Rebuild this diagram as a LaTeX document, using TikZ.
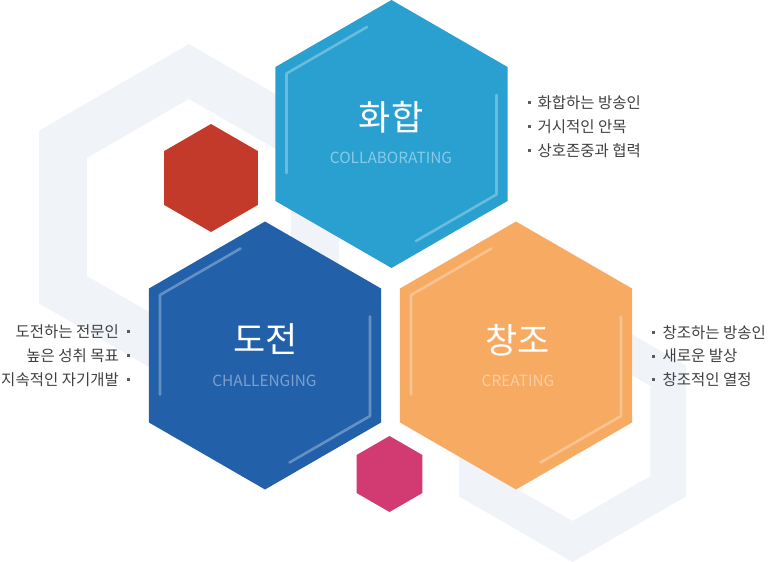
\documentclass[tikz,border=0pt]{standalone}
\usepackage{fontspec}
\setmainfont{Noto Sans CJK KR}
\begin{document}
\begin{tikzpicture}[x=1pt,y=-1pt,
  hexfill/.style={fill=#1},
  bgband/.style={fill=bgc,even odd rule},
  deco/.style={draw=white,draw opacity=0.3,line width=2.6pt,line cap=round,line join=round},
  title/.style={text=white,font=\fontsize{35}{40}\selectfont,inner sep=0pt},
  sub/.style={font=\fontsize{15.4}{19}\selectfont,inner sep=0pt},
  item/.style={text=txtc,font=\fontsize{15.5}{18}\selectfont,inner sep=0pt},
  bul/.style={fill=bulc,minimum size=3pt,inner sep=0pt,outer sep=0pt}]
\definecolor{cTop}{RGB}{41,160,207}
\definecolor{cLeft}{RGB}{34,97,170}
\definecolor{cRight}{RGB}{247,170,98}
\definecolor{cRed}{RGB}{196,58,42}
\definecolor{cPink}{RGB}{210,58,114}
\definecolor{bgc}{RGB}{240,244,249}
\definecolor{txtc}{RGB}{64,64,64}
\definecolor{bulc}{RGB}{90,90,90}
\definecolor{subTop}{RGB}{137,203,229}
\definecolor{subLeft}{RGB}{125,160,205}
\definecolor{subRight}{RGB}{250,205,165}
\newcommand\hexp[1]{(90:#1) -- (150:#1) -- (210:#1) -- (270:#1) -- (330:#1) -- (30:#1) -- cycle}
\useasboundingbox (0,0) rectangle (780,562);
% background rings
\path[bgband,shift={(189,217)}] \hexp{173} \hexp{118};
\path[bgband,shift={(572.5,431)}] \hexp{131} \hexp{90};
% big hexagons
\begin{scope}[shift={(391.5,134)}]
  \fill[cTop] \hexp{134};
  \draw[deco] (-105,39) -- (-105,-60.5) -- (-24.5,-107);
  \draw[deco] (105,-39) -- (105,60.5) -- (24.5,107);
\end{scope}
\begin{scope}[shift={(265,355.5)}]
  \fill[cLeft] \hexp{134};
  \draw[deco] (-105,39) -- (-105,-60.5) -- (-24.5,-107);
  \draw[deco] (105,-39) -- (105,60.5) -- (24.5,107);
\end{scope}
\begin{scope}[shift={(516,355.5)}]
  \fill[cRight] \hexp{134};
  \draw[deco] (-105,39) -- (-105,-60.5) -- (-24.5,-107);
  \draw[deco] (105,-39) -- (105,60.5) -- (24.5,107);
\end{scope}
% small hexagons
\fill[cRed,shift={(211,178)}] \hexp{54};
\fill[cPink,shift={(389.5,474)}] \hexp{38};
% titles
\node[title] (t1) at (391,117) {화합};
\node[sub,text=subTop] (s1) at (391,157.5) {COLLABORATING};
\node[title] (t2) at (265.5,339) {도전};
\node[sub,text=subLeft] (s2) at (264.5,381) {CHALLENGING};
\node[title] (t3) at (517.5,340) {창조};
\node[sub,text=subRight] (s3) at (518,381) {CREATING};
% top list
\node[bul] (b11) at (529,102.5) {};
\node[bul] (b12) at (529,126.5) {};
\node[bul] (b13) at (529,150.5) {};
\node[item,anchor=west] (i11) at (537.5,102.5) {화합하는 방송인};
\node[item,anchor=west] (i12) at (537.5,126.5) {거시적인 안목};
\node[item,anchor=west] (i13) at (537.5,150.5) {상호존중과 협력};
% left list
\node[bul] (b21) at (128,331.5) {};
\node[bul] (b22) at (128,355.5) {};
\node[bul] (b23) at (128,379.5) {};
\node[item,anchor=east] (i21) at (119,331.5) {도전하는 전문인};
\node[item,anchor=east] (i22) at (119,355.5) {높은 성취 목표};
\node[item,anchor=east] (i23) at (119,379.5) {지속적인 자기개발};
% right list
\node[bul] (b31) at (653,332.5) {};
\node[bul] (b32) at (653,356) {};
\node[bul] (b33) at (653,379.5) {};
\node[item,anchor=west] (i31) at (662.5,332.5) {창조하는 방송인};
\node[item,anchor=west] (i32) at (662.5,356) {새로운 발상};
\node[item,anchor=west] (i33) at (662.5,379.5) {창조적인 열정};
\end{tikzpicture}
\end{document}
